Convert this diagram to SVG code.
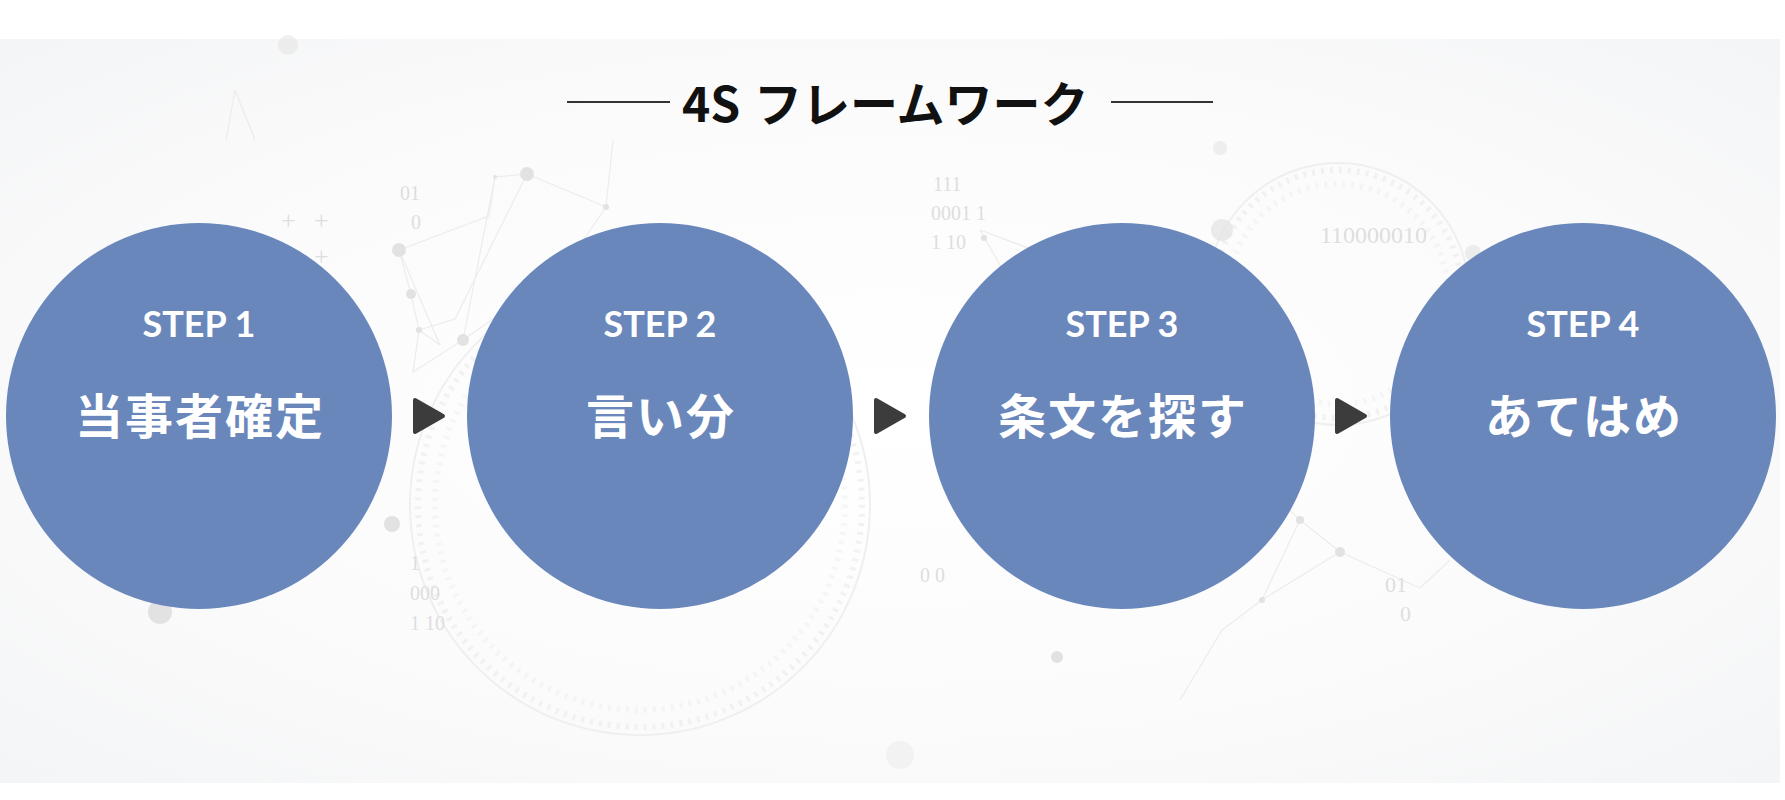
<svg xmlns="http://www.w3.org/2000/svg" width="1785" height="800" viewBox="0 0 1785 800">
  <defs>
    <radialGradient id="bg" cx="50%" cy="50%" r="70%">
      <stop offset="0" stop-color="#ffffff"/>
      <stop offset="0.6" stop-color="#fbfbfc"/>
      <stop offset="1" stop-color="#f4f5f6"/>
    </radialGradient>
    <style>
      .step { fill: #6a87bb; }
      .lbl1 { font-family: Lato, "Noto Sans", sans-serif; font-weight: 700; font-size: 36px; fill: #ffffff; text-anchor: middle; }
      .lbl2 { font-family: "Noto Sans CJK JP", sans-serif; font-weight: 700; font-size: 48px; fill: #ffffff; text-anchor: middle; letter-spacing: 2px; }
      .title { font-family: "Noto Sans CJK JP", sans-serif; font-weight: 700; font-size: 48px; fill: #111111; }
      .rule { stroke: #333333; stroke-width: 2; }
      .arrow { fill: #3c3c3c; stroke: #3c3c3c; stroke-width: 4; stroke-linejoin: round; }
      .bin { font-family: "Liberation Serif", serif; fill: #dedede; }
      .net { stroke: #ececec; stroke-width: 1.2; fill: none; }
      .dot { fill: #e2e2e2; }
      .globe { fill: none; stroke: #efefef; stroke-width: 2; }
      .globed { fill: none; stroke: #ececec; stroke-width: 6; stroke-dasharray: 3 6; }
    </style>
  </defs>

  <rect x="0" y="0" width="1785" height="800" fill="#ffffff"/>
  <rect x="0" y="39" width="1780" height="744" fill="url(#bg)"/>

  <g id="background-decor">
    <circle class="globe" cx="640" cy="505" r="230"/>
    <circle class="globed" cx="640" cy="505" r="222" opacity="0.7"/>
    <circle class="globed" cx="640" cy="505" r="205" opacity="0.4"/>
    <circle class="globe" cx="1338" cy="294" r="131"/>
    <circle class="globed" cx="1338" cy="294" r="124" opacity="0.7"/>
    <circle class="globed" cx="1338" cy="294" r="110" opacity="0.4"/>
    <path class="net" d="M527 174 L495 177 L489 216 L399 250 L411 294 L419 330 L413 372 L463 340 L495 177 M527 174 L606 207 L613 140 M527 174 L455 319 L419 330 M399 250 L440 345 M606 207 L563 270 L463 340 M440 345 L419 330"/>
    <path class="net" d="M1222 630 L1262 600 L1340 552 L1300 520 L1262 600 M1340 552 L1420 588 M1222 630 L1180 700 M1300 520 L1250 470 M1450 560 L1420 588"/>
    <path class="net" d="M980 230 L1020 300 L1060 260 L980 230 M1060 260 L1100 340"/>
    <path class="net" d="M235 90 L226 140 M235 90 L255 140"/>
    <circle class="dot" cx="527" cy="174" r="7"/>
    <circle class="dot" cx="399" cy="250" r="7"/>
    <circle class="dot" cx="411" cy="294" r="5"/>
    <circle class="dot" cx="463" cy="340" r="6"/>
    <circle class="dot" cx="606" cy="207" r="3"/>
    <circle class="dot" cx="495" cy="177" r="2"/>
    <circle class="dot" cx="419" cy="330" r="3"/>
    <circle class="dot" cx="160" cy="612" r="12"/>
    <circle class="dot" cx="357" cy="380" r="5"/>
    <circle class="dot" cx="1222" cy="230" r="11" opacity="0.7"/>
    <circle class="dot" cx="288" cy="45" r="10" opacity="0.5"/>
    <circle class="dot" cx="1057" cy="657" r="6"/>
    <circle class="dot" cx="1340" cy="552" r="5"/>
    <circle class="dot" cx="1262" cy="600" r="3"/>
    <circle class="dot" cx="1300" cy="520" r="4"/>
    <circle class="dot" cx="984" cy="238" r="3"/>
    <circle class="dot" cx="1473" cy="253" r="8" opacity="0.6"/>
    <circle class="dot" cx="392" cy="524" r="8" fill="#dde8e8"/>
    <circle class="dot" cx="900" cy="755" r="14" opacity="0.35"/>
    <circle class="dot" cx="1220" cy="148" r="7" opacity="0.5"/>
    <text class="bin" x="400" y="200" font-size="20">01</text>
    <text class="bin" x="411" y="229" font-size="20">0</text>
    <text class="bin" x="933" y="191" font-size="20">111</text>
    <text class="bin" x="931" y="220" font-size="20">0001  1</text>
    <text class="bin" x="931" y="249" font-size="20">1  10</text>
    <text class="bin" x="1320" y="243" font-size="24">110000010</text>
    <text class="bin" x="1385" y="592" font-size="22">01</text>
    <text class="bin" x="1400" y="621" font-size="22">0</text>
    <text class="bin" x="410" y="570" font-size="20">1</text>
    <text class="bin" x="410" y="600" font-size="20">000</text>
    <text class="bin" x="410" y="630" font-size="20">1  10</text>
    <text class="bin" x="920" y="582" font-size="20">0  0</text>
    <text class="bin" x="281" y="229" font-size="26">+</text>
    <text class="bin" x="314" y="229" font-size="26">+</text>
    <text class="bin" x="314" y="265" font-size="26">+</text>
  </g>

  <g id="title">
    <line class="rule" x1="567" y1="102" x2="670" y2="102"/>
    <line class="rule" x1="1111" y1="102" x2="1213" y2="102"/>
    <text class="title" x="682" y="122">4S</text>
    <text class="title" x="754" y="122">フレームワーク</text>
  </g>

  <g id="connectors">
    <path class="arrow" d="M415 400 L443 416 L415 432 Z"/>
    <path class="arrow" d="M876 400 L904 416 L876 432 Z"/>
    <path class="arrow" d="M1337 400 L1365 416 L1337 432 Z"/>
  </g>

  <g id="step1">
    <circle class="step" cx="199" cy="416" r="193"/>
    <text class="lbl1" x="199" y="337">STEP 1</text>
    <text class="lbl2" x="200" y="434">当事者確定</text>
  </g>
  <g id="step2">
    <circle class="step" cx="660" cy="416" r="193"/>
    <text class="lbl1" x="660" y="337">STEP 2</text>
    <text class="lbl2" x="661" y="434">言い分</text>
  </g>
  <g id="step3">
    <circle class="step" cx="1122" cy="416" r="193"/>
    <text class="lbl1" x="1122" y="337">STEP 3</text>
    <text class="lbl2" x="1123" y="434">条文を探す</text>
  </g>
  <g id="step4">
    <circle class="step" cx="1583" cy="416" r="193"/>
    <text class="lbl1" x="1583" y="337">STEP 4</text>
    <text class="lbl2" x="1584" y="434">あてはめ</text>
  </g>
</svg>
